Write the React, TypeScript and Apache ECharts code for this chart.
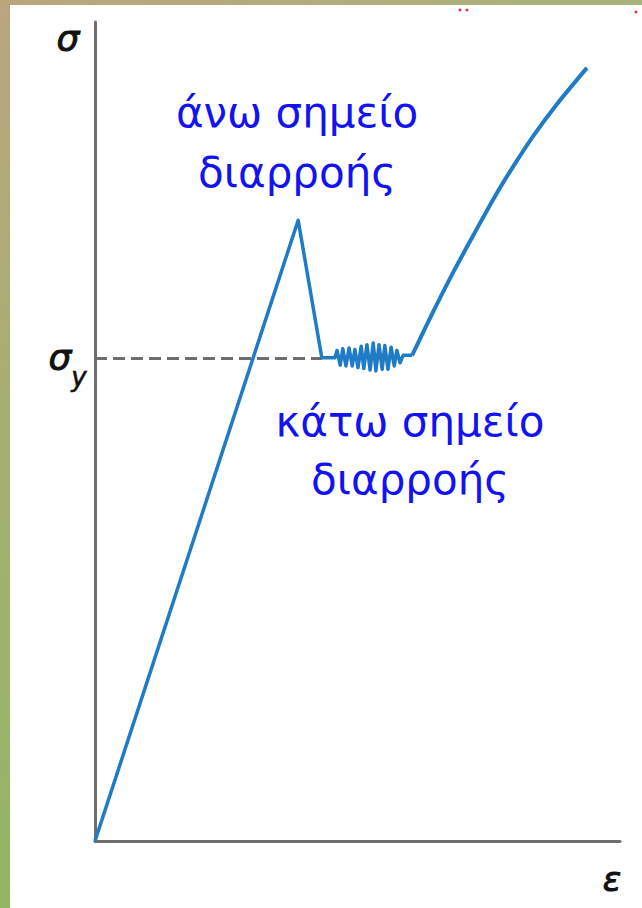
import React, { useEffect, useRef } from "react";
import * as echarts from "echarts";

// Stress–strain curve of a steel with distinct upper and lower yield points (arbitrary units)
const elasticStrain = [0, 38.7, 43.2, 45.7];
const elasticStress = [0, 75.8, 59.0, 59.0];

// Serrated flow along the lower yield plateau (Lüders band)
const plateauStrain = [
  46.1, 46.7, 47.2, 47.8, 48.4, 49.0, 49.5, 50.1, 50.7, 51.2, 51.8, 52.4,
  53.0, 53.5, 54.1, 54.7, 55.2, 55.8, 56.4, 57.0, 57.5, 58.1, 58.7, 60.4,
];
const plateauStress = [
  59.9, 58.1, 60.1, 58.0, 60.2, 58.0, 60.0, 57.8, 60.4, 57.7, 60.6, 57.5,
  60.8, 57.4, 60.6, 57.6, 60.5, 57.6, 60.3, 58.0, 59.9, 58.4, 59.3, 59.3,
];

// Strain hardening
const hardeningStrain = [60.4, 64.4, 68.2, 72.1, 75.9, 79.7, 83.5, 87.9, 93.7];
const hardeningStress = [59.3, 64.6, 69.4, 74.0, 78.4, 82.4, 86.1, 89.9, 94.4];

const yieldStress = 59.0;
const lowerYieldStrain = 43.2;

const axisNames = { stress: "σ", strain: "ε", yieldMain: "σ", yieldSub: "y" };
const upperYieldLabel = ["άνω σημείο", "διαρροής"];
const lowerYieldLabel = ["κάτω σημείο", "διαρροής"];

const W = 642;
const H = 908;

const pairs = (xs: number[], ys: number[]) => xs.map((x, i) => [x, ys[i]]);

export default function App() {
  const ref = useRef<HTMLDivElement>(null);

  useEffect(() => {
    if (!ref.current) return;
    const chart = echarts.init(ref.current, null, { renderer: "svg" });
    const curveColor = "#1f7bc6";
    const labelColor = "#1212f2";
    const labelFont = "'DejaVu Sans', Verdana, sans-serif";
    const symbolFont = "'DejaVu Sans', sans-serif";

    const symbolText = (text: string, x: number, y: number, size: number) => ({
      type: "text",
      x,
      y,
      style: {
        text,
        font: `italic ${size}px ${symbolFont}`,
        fill: "#111",
        stroke: "#111",
        lineWidth: 1,
        align: "center",
        verticalAlign: "middle",
      },
    });

    chart.setOption({
      animation: false,
      backgroundColor: "#ffffff",
      grid: { left: 95, right: 22, top: 22, bottom: 67 },
      xAxis: {
        type: "value",
        min: 0,
        max: 100,
        axisLine: { lineStyle: { color: "#6e6e6e", width: 3 } },
        axisTick: { show: false },
        axisLabel: { show: false },
        splitLine: { show: false },
      },
      yAxis: {
        type: "value",
        min: 0,
        max: 100,
        axisLine: { show: true, lineStyle: { color: "#6e6e6e", width: 3 } },
        axisTick: { show: false },
        axisLabel: { show: false },
        splitLine: { show: false },
      },
      series: [
        {
          type: "line",
          data: [...pairs(elasticStrain, elasticStress), ...pairs(plateauStrain, plateauStress)],
          symbol: "none",
          lineStyle: { color: curveColor, width: 3.5, join: "round" },
          z: 3,
          markLine: {
            silent: true,
            symbol: "none",
            label: { show: false },
            lineStyle: { color: "#6e6e6e", width: 3, type: [12, 6] },
            data: [[{ coord: [0, yieldStress] }, { coord: [lowerYieldStrain, yieldStress] }]],
            z: 2,
          },
        },
        {
          type: "line",
          data: pairs(hardeningStrain, hardeningStress),
          symbol: "none",
          smooth: 0.3,
          lineStyle: { color: curveColor, width: 4 },
          z: 3,
        },
      ],
      graphic: [
        // slide frame
        {
          type: "rect",
          shape: { x: 0, y: 0, width: 10, height: H },
          style: {
            fill: new echarts.graphic.LinearGradient(0, 0, 0, 1, [
              { offset: 0, color: "#bba57d" },
              { offset: 0.4, color: "#a9ae74" },
              { offset: 1, color: "#93b664" },
            ]),
          },
          silent: true,
        },
        {
          type: "rect",
          shape: { x: 0, y: 0, width: W, height: 5 },
          style: {
            fill: new echarts.graphic.LinearGradient(0, 0, 1, 0, [
              { offset: 0, color: "#bba57d" },
              { offset: 1, color: "#a6b37a" },
            ]),
          },
          silent: true,
        },
        { type: "circle", shape: { cx: 460, cy: 10, r: 1.5 }, style: { fill: "#e0304a" }, silent: true },
        { type: "circle", shape: { cx: 467, cy: 10, r: 1.5 }, style: { fill: "#e0304a" }, silent: true },
        { type: "circle", shape: { cx: 636, cy: 12, r: 1.5 }, style: { fill: "#e0304a" }, silent: true },
        // axis symbols
        symbolText(axisNames.stress, 68, 38, 36),
        symbolText(axisNames.strain, 612, 879, 34),
        symbolText(axisNames.yieldMain, 60, 357, 36),
        {
          type: "text",
          x: 79,
          y: 377,
          style: {
            text: axisNames.yieldSub,
            font: `italic 26px ${symbolFont}`,
            fill: "#111",
            stroke: "#111",
            lineWidth: 0.6,
            align: "center",
            verticalAlign: "middle",
          },
        },
        // annotations
        ...upperYieldLabel.map((t, i) => ({
          type: "text",
          x: 297,
          y: 112 + i * 60,
          style: {
            text: t,
            font: `42px ${labelFont}`,
            fill: labelColor,
            align: "center",
            verticalAlign: "middle",
          },
        })),
        ...lowerYieldLabel.map((t, i) => ({
          type: "text",
          x: 410,
          y: 421 + i * 58,
          style: {
            text: t,
            font: `42px ${labelFont}`,
            fill: labelColor,
            align: "center",
            verticalAlign: "middle",
          },
        })),
      ],
    });

    return () => chart.dispose();
  }, []);

  return (
    <div
      ref={ref}
      style={{ position: "fixed", left: 0, top: 0, width: W, height: H }}
    />
  );
}
